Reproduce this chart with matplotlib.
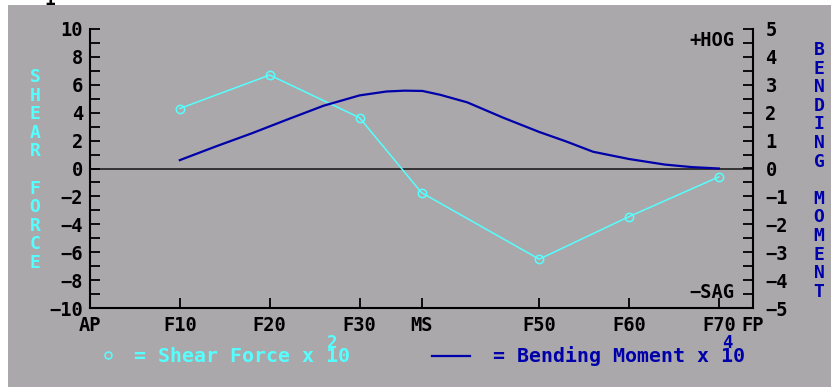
import matplotlib
matplotlib.use('Agg')
import matplotlib.pyplot as plt
from matplotlib.patches import Rectangle
from matplotlib.lines import Line2D
from matplotlib.ticker import MultipleLocator

# ---- data ----
station_labels = ['AP', 'F10', 'F20', 'F30', 'MS', 'F50', 'F60', 'F70', 'FP']
station_pos = [0, 10, 20, 30, 36.9, 50, 60, 70, 73.8]

shear_frames = [10, 20, 30, 36.9, 50, 60, 70]
shear_vals = [4.3, 6.7, 3.64, -1.73, -6.5, -3.45, -0.6]

bm_frames = [10, 14, 18, 22, 26, 30, 33, 35, 37, 39, 42, 46, 50, 53, 56, 60, 64, 67, 70]
bm_vals = [0.30, 0.79, 1.26, 1.76, 2.25, 2.62, 2.76, 2.79, 2.78, 2.64, 2.37, 1.82,
           1.31, 0.97, 0.60, 0.34, 0.14, 0.05, 0.0]

GRAY = '#aaa8aa'
CYAN = '#55ffff'
BLUE = '#0000aa'
W, H = 831, 387

plt.rcParams['font.family'] = ['DejaVu Sans Mono']
plt.rcParams['font.weight'] = 'bold'

def fx(x):
    return x / W

def fy(y):
    return 1 - y / H

fig = plt.figure(figsize=(W / 100, H / 100), dpi=100)
fig.patch.set_facecolor('white')
fig.patches.append(Rectangle((fx(8), 0), 1 - fx(8), fy(5), transform=fig.transFigure,
                             facecolor=GRAY, edgecolor='none', zorder=-10))
fig.text(fx(50), fy(5), '1', ha='center', va='baseline', fontsize=13, color='black')

ax = fig.add_axes([fx(90), fy(308), (753 - 90) / W, (308 - 29) / H])
ax.patch.set_visible(False)
ax2 = ax.twinx()
ax2.patch.set_visible(False)

ax.set_xlim(0, 73.8)
ax.set_ylim(-10, 10)
ax2.set_ylim(-5, 5)

ax.axhline(0, color='#333333', lw=1.4, zorder=1)
ax.plot(shear_frames, shear_vals, color=CYAN, lw=1.1, marker='o', mfc='none',
        mec=CYAN, ms=6, mew=1.1, zorder=3)
ax2.plot(bm_frames, bm_vals, color=BLUE, lw=1.6, zorder=3)

for a in (ax, ax2):
    a.spines['top'].set_visible(False)
ax.spines['right'].set_visible(False)
ax2.spines['left'].set_visible(False)
ax2.spines['bottom'].set_visible(False)
for s in ('left', 'bottom'):
    ax.spines[s].set_linewidth(1.5)
ax2.spines['right'].set_linewidth(1.5)

ax.yaxis.set_major_locator(MultipleLocator(2))
ax.yaxis.set_minor_locator(MultipleLocator(1))
ax.tick_params(axis='y', which='both', direction='in', length=7, width=1.3,
               pad=5, labelsize=13.5)
ax2.yaxis.set_major_locator(MultipleLocator(1))
ax2.yaxis.set_minor_locator(MultipleLocator(0.5))
ax2.tick_params(axis='y', which='both', direction='in', length=7, width=1.3,
                pad=9, labelsize=13.5)

ax.set_xticks(station_pos)
ax.set_xticklabels(station_labels)
ax.tick_params(axis='x', direction='in', length=7, width=1.3, pad=6, labelsize=13.5)

# corner labels
fig.text(fx(734), fy(40), '+HOG', ha='right', va='center', fontsize=13.5, color='black')
fig.text(fx(734), fy(292), '\u2212SAG', ha='right', va='center', fontsize=13.5, color='black')

# vertical axis titles
shear_letters = 'SHEAR FORCE'
for i, ch in enumerate(shear_letters):
    if ch != ' ':
        fig.text(fx(35), fy(77 + i * 18.6), ch, ha='center', va='center',
                 fontsize=13, color=CYAN)
bm_letters = 'BENDING MOMENT'
for i, ch in enumerate(bm_letters):
    if ch != ' ':
        fig.text(fx(819), fy(50 + i * 18.6), ch, ha='center', va='center',
                 fontsize=13, color=BLUE)

# legend
fig.add_artist(Line2D([fx(108)], [fy(355)], transform=fig.transFigure, marker='o',
                      mfc='none', mec=CYAN, ms=5, mew=1.1, lw=0))
fig.text(fx(350), fy(356), '= Shear Force x 10', ha='right', va='center',
         fontsize=14.3, color=CYAN)
fig.text(fx(332), fy(343), '2', ha='center', va='center', fontsize=12.5, color=CYAN)
fig.add_artist(Line2D([fx(432), fx(470)], [fy(356), fy(356)], transform=fig.transFigure,
                      color=BLUE, lw=1.6))
fig.text(fx(745), fy(356), '= Bending Moment x 10', ha='right', va='center',
         fontsize=14.3, color=BLUE)
fig.text(fx(727), fy(343), '4', ha='center', va='center', fontsize=12.5, color=BLUE)

fig.savefig('out.png', dpi=100, facecolor='white')
